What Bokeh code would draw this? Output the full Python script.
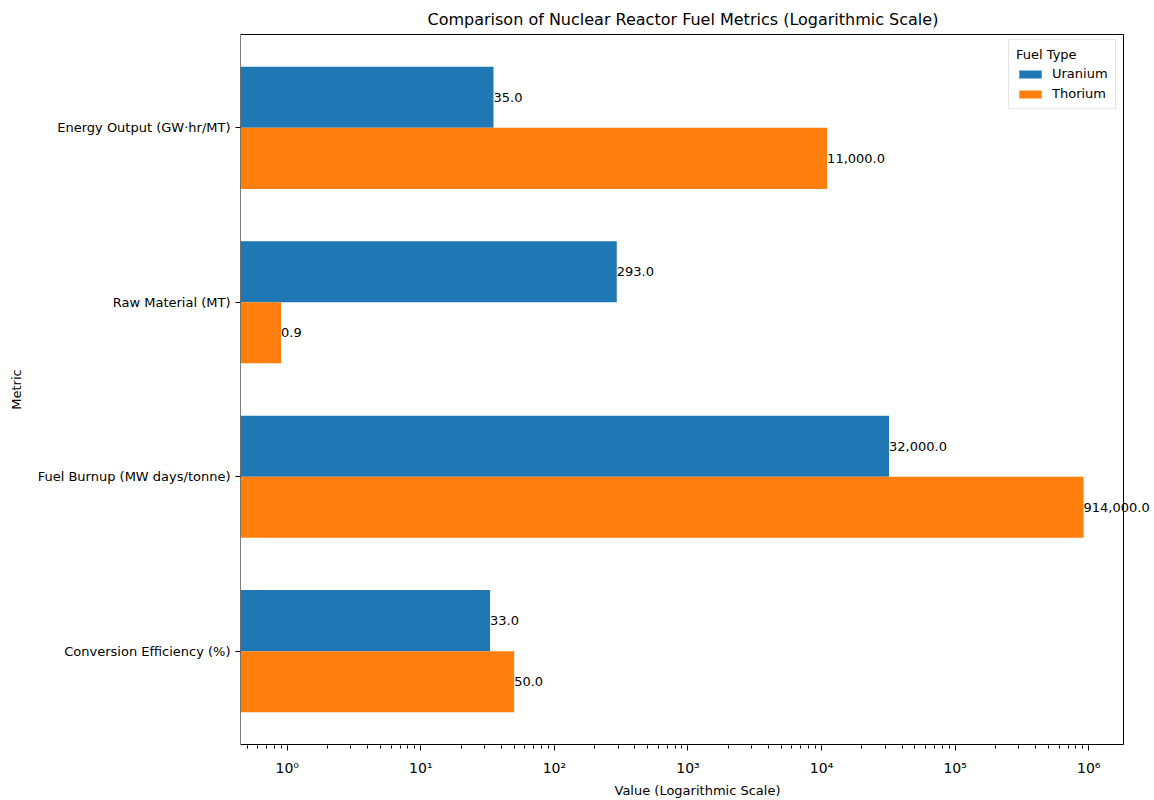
from bokeh.plotting import figure
from bokeh.models import (Range1d, FixedTicker, ColumnDataSource, Legend, LegendItem,
                          LabelSet, BoxAnnotation)
from bokeh.core.properties import value
from bokeh.embed import file_html
from bokeh.resources import INLINE

# ---- data ----
metrics = ["Energy Output (GW·hr/MT)", "Raw Material (MT)",
           "Fuel Burnup (MW days/tonne)", "Conversion Efficiency (%)"]
uranium = [35.0, 293.0, 32000.0, 33.0]
thorium = [11000.0, 0.9, 914000.0, 50.0]
series_names = ["Uranium", "Thorium"]
series_colors = ["#1f77b4", "#ff7f0e"]
x_tick_values = [1, 10, 100, 1000, 10000, 100000, 1000000]
x_tick_labels = ["10⁰", "10¹", "10²", "10³", "10⁴", "10⁵", "10⁶"]

FONT = "DejaVu Sans"
n = len(metrics)
pos = [n - 1 - i for i in range(n)]
bar_h = 0.35

# visible axes box (matches reference spines); frame is a bit wider so
# value labels can run past the right spine without being clipped
X_LO, X_HI = 0.447, 1.82e6
Y_LO, Y_HI = -0.535, 3.535

p = figure(width=1154, height=800, x_axis_type="log",
           x_range=Range1d(X_LO, 3.105e6), y_range=Range1d(-0.5407, 3.5407),
           output_backend="svg", toolbar_location=None,
           min_border_left=240, min_border_right=0, min_border_top=33, min_border_bottom=48)

p.title.text = "Comparison of Nuclear Reactor Fuel Metrics (Logarithmic Scale)"
p.title.align = "left"
p.title.offset = 187
p.title.text_font = FONT
p.title.text_font_size = "16px"
p.title.text_font_style = "normal"
p.title.text_color = "black"
p.title.standoff = 9

renderers = []
for vals, off, name, color in [(uranium, bar_h / 2, series_names[0], series_colors[0]),
                               (thorium, -bar_h / 2, series_names[1], series_colors[1])]:
    src = ColumnDataSource(dict(
        y=[q + off for q in pos],
        right=vals,
        left=[1e-3] * n,
        label=["{:,.1f}".format(v) for v in vals],
    ))
    r = p.hbar(y="y", left="left", right="right", height=bar_h, source=src,
               fill_color=color, line_color=None)
    renderers.append((name, r))
    labels = LabelSet(x="right", y="y", text="label", source=src, text_align="left",
                      text_baseline="middle", text_font=value(FONT),
                      text_font_size=value("13px"), text_color="black")
    p.add_layout(labels)

# spines
p.add_layout(BoxAnnotation(left=X_LO, right=X_HI, bottom=Y_LO, top=Y_HI,
                           fill_alpha=0, line_color="black", line_alpha=1.0,
                           line_width=1, level="overlay"))

legend = Legend(items=[LegendItem(label=nm, renderers=[r]) for nm, r in renderers],
                location=(768, 636))
legend.title = "Fuel Type"
legend.title_text_font = FONT
legend.title_text_font_size = "13px"
legend.title_text_font_style = "normal"
legend.title_text_color = "black"
legend.title_standoff = 4
legend.label_text_font = FONT
legend.label_text_font_size = "13px"
legend.label_text_color = "black"
legend.glyph_width = 28
legend.glyph_height = 10
legend.label_height = 14
legend.label_standoff = 8
legend.spacing = 5
legend.padding = 7
legend.margin = 0
legend.border_line_color = "#cccccc"
legend.border_line_width = 1
legend.background_fill_alpha = 0.8
p.add_layout(legend)

# axes
minor = [k * 10.0 ** d for d in range(-1, 7) for k in range(2, 10)
         if X_LO <= k * 10.0 ** d <= X_HI]
p.xaxis.ticker = FixedTicker(ticks=x_tick_values, minor_ticks=minor)
p.xaxis.major_label_overrides = {v: l for v, l in zip(x_tick_values, x_tick_labels)}
p.yaxis.ticker = FixedTicker(ticks=pos)
p.yaxis.major_label_overrides = {q: m for q, m in zip(pos, metrics)}

for ax in (p.xaxis[0], p.yaxis[0]):
    ax.major_label_text_font = FONT
    ax.major_label_text_font_size = "13px"
    ax.major_label_text_color = "black"
    ax.axis_label_text_font = FONT
    ax.axis_label_text_font_size = "13px"
    ax.axis_label_text_font_style = "normal"
    ax.axis_label_text_color = "black"
    ax.axis_line_color = None
    ax.major_tick_line_color = "black"
    ax.minor_tick_line_color = "black"
    ax.major_tick_out = 5
    ax.major_tick_in = 0
    ax.minor_tick_out = 3
    ax.minor_tick_in = 0

p.yaxis.major_label_standoff = 5
p.yaxis.axis_label_standoff = 11
p.xaxis.major_label_standoff = 9
p.xaxis.axis_label_standoff = 4
p.xaxis.major_label_text_font_size = "14px"
p.xaxis.axis_label = "Value (Logarithmic Scale)"
p.yaxis.axis_label = "Metric"
p.yaxis.minor_tick_line_color = None

p.xgrid.grid_line_color = None
p.ygrid.grid_line_color = None
p.outline_line_color = None

open("out.html", "w").write(file_html(p, INLINE))
